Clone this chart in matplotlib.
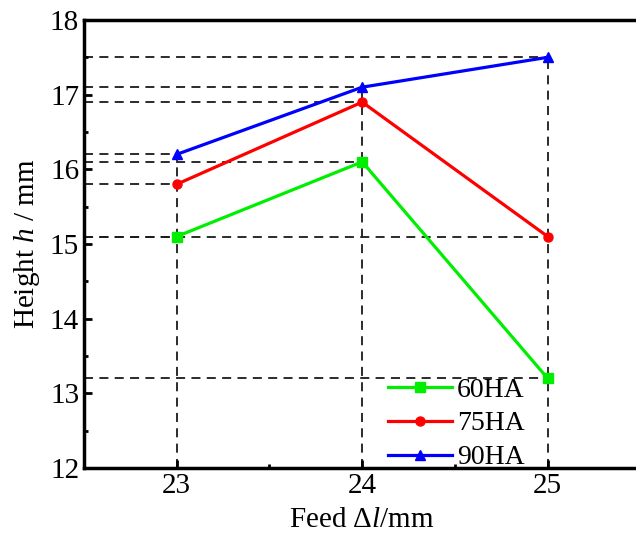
import matplotlib
matplotlib.use("Agg")
import matplotlib.pyplot as plt
from matplotlib.ticker import MultipleLocator

plt.rcParams['font.family'] = ['Liberation Serif', 'DejaVu Serif']
plt.rcParams['mathtext.fontset'] = 'custom'
plt.rcParams['mathtext.it'] = 'Liberation Serif:italic'
plt.rcParams['mathtext.rm'] = 'Liberation Serif'

feed = [23, 24, 25]
h_60 = [15.1, 16.1, 13.2]
h_75 = [15.8, 16.9, 15.1]
h_90 = [16.2, 17.1, 17.5]

series = [
    ('60HA', h_60, '#00ee00', 's'),
    ('75HA', h_75, '#ff0000', 'o'),
    ('90HA', h_90, '#0000ff', '^'),
]

fig = plt.figure(figsize=(6.36, 5.34), dpi=100)
ax = fig.add_axes([0.132, 0.1236, 0.875, 0.839])

x0, y0 = 22.5, 12
dash = dict(color='#1a1a1a', linestyle=(0, (5, 3.5)), linewidth=1.3, zorder=1)

# guide lines from each point to the axes
for name, vals, col, mk in series:
    for x, y in zip(feed, vals):
        ax.plot([x0, x], [y, y], **dash)
for i, x in enumerate(feed):
    top = max(s[1][i] for s in series)
    ax.plot([x, x], [y0, top], **dash)

for name, vals, col, mk in series:
    ax.plot(feed, vals, color=col, marker=mk, markersize=6.5, linewidth=2.3,
            label=name, zorder=3)

ax.set_xlim(22.5, 25.5)
ax.set_ylim(12, 18)
ax.set_xticks(feed)
ax.xaxis.set_minor_locator(MultipleLocator(0.5))
ax.yaxis.set_major_locator(MultipleLocator(1))
ax.yaxis.set_minor_locator(MultipleLocator(0.5))
ax.tick_params(which='both', direction='in', labelsize=21, width=2,
               top=False, right=False)
ax.tick_params(which='major', length=6)
ax.tick_params(which='minor', length=3)
for side in ['left', 'bottom', 'top', 'right']:
    ax.spines[side].set_linewidth(2.5)

ax.set_xlabel(r'Feed $\Delta\mathit{l}$/mm', fontsize=21, labelpad=6)
ax.set_ylabel(r'Height $\mathit{h}$ / mm', fontsize=21, labelpad=6)

ax.legend(loc='lower left', bbox_to_anchor=(0.546, -0.005), frameon=False,
          fontsize=20, handlelength=2.3, handletextpad=0.2,
          labelspacing=0.3, borderpad=0, borderaxespad=0)

fig.savefig('out.png', dpi=100)
